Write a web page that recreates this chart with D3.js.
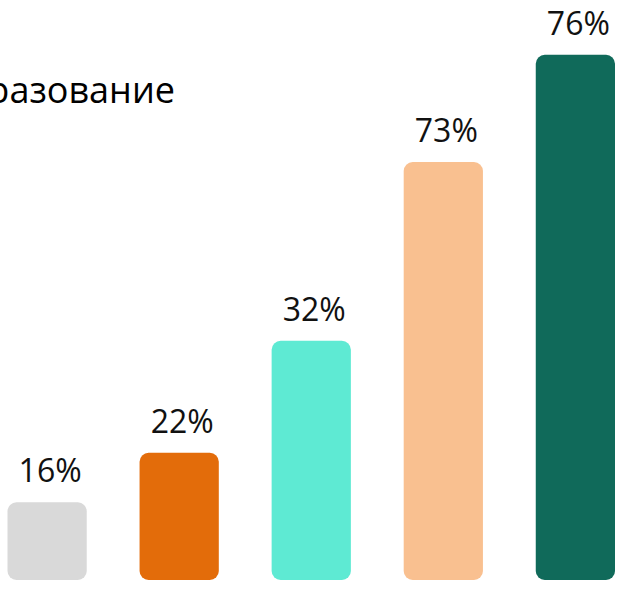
<!DOCTYPE html>
<html>
<head>
<meta charset="utf-8">
<script src="https://cdn.jsdelivr.net/npm/d3@7/dist/d3.min.js"></script>
<style>
  html, body { margin: 0; padding: 0; background: #ffffff; }
  svg { display: block; }
</style>
</head>
<body>
<script>
// ---- data ----
const categories = ["A", "B", "C", "D", "E"];
const barValues = [11.3, 18.5, 34.8, 60.8, 76.4];
const labels = ["16%", "22%", "32%", "73%", "76%"];
const colors = ["#d9d9d9", "#e36c0a", "#5eead3", "#f9c090", "#106a5a"];
const title = "Высшее образование";

// ---- layout ----
const W = 627, H = 601;
const svg = d3.select("body").append("svg").attr("width", W).attr("height", H);

const x = d3.scaleBand().domain(categories).range([7.5, 615]).paddingInner(0.4).paddingOuter(0);
const y = d3.scaleLinear().domain([0, 80]).range([580, 30]);

svg.append("text")
  .attr("x", 175).attr("y", 103)
  .attr("text-anchor", "end")
  .attr("font-family", "'Open Sans', sans-serif")
  .attr("font-size", 36)
  .attr("fill", "#000")
  .text(title);

const data = categories.map((c, i) => ({ c, v: barValues[i], label: labels[i], color: colors[i] }));

svg.selectAll("rect.bar").data(data).join("rect")
  .attr("class", "bar")
  .attr("x", d => x(d.c))
  .attr("width", x.bandwidth())
  .attr("y", d => y(d.v))
  .attr("height", d => y(0) - y(d.v))
  .attr("rx", 9).attr("ry", 9)
  .attr("fill", d => d.color);

svg.selectAll("text.lbl").data(data).join("text")
  .attr("class", "lbl")
  .attr("x", d => x(d.c) + x.bandwidth() / 2 + 3)
  .attr("y", d => y(d.v) - 20)
  .attr("text-anchor", "middle")
  .attr("font-family", "'Open Sans', sans-serif")
  .attr("font-size", 32)
  .attr("fill", "#111")
  .text(d => d.label);
</script>
</body>
</html>
